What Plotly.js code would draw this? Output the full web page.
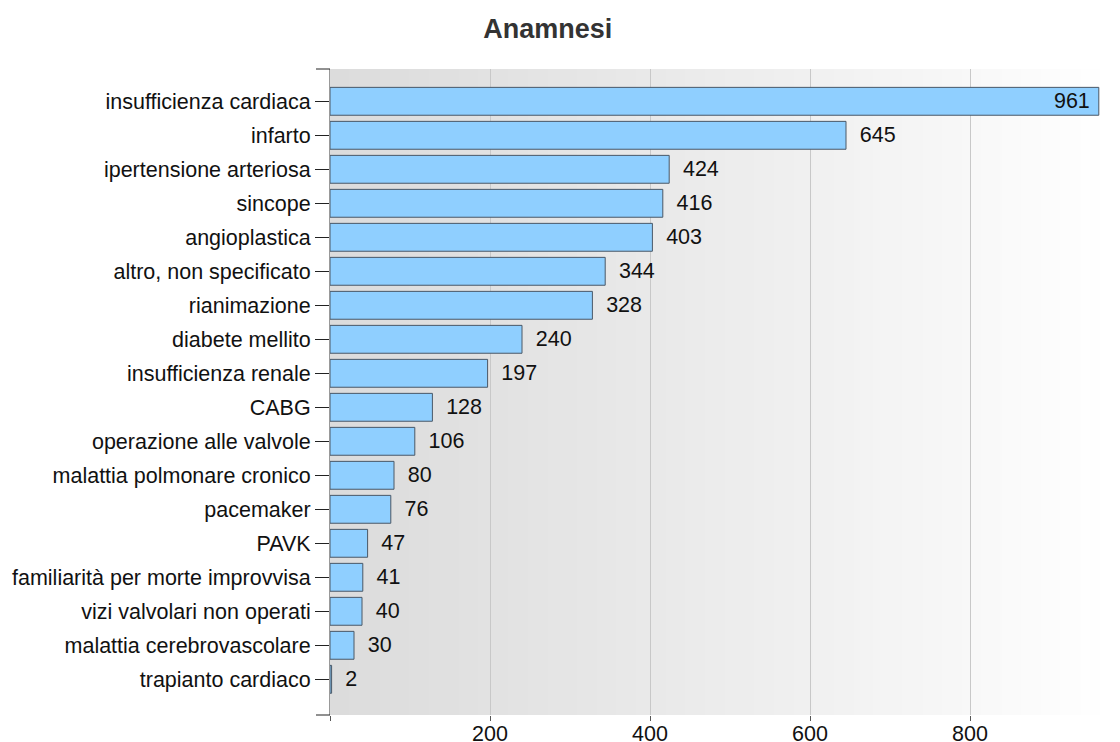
<!DOCTYPE html>
<html>
<head>
<meta charset="utf-8">
<script src="https://cdn.plot.ly/plotly-3.0.1.min.js"></script>
<style>html,body{margin:0;padding:0;background:#fff;}#chart{width:1120px;height:742px;}</style>
</head>
<body>
<div id="chart"></div>
<script>
const categories = [
  "insufficienza cardiaca", "infarto", "ipertensione arteriosa", "sincope",
  "angioplastica", "altro, non specificato", "rianimazione", "diabete mellito",
  "insufficienza renale", "CABG", "operazione alle valvole",
  "malattia polmonare cronico", "pacemaker", "PAVK",
  "familiarità per morte improvvisa", "vizi valvolari non operati",
  "malattia cerebrovascolare", "trapianto cardiaco"
];
const values = [961, 645, 424, 416, 403, 344, 328, 240, 197, 128, 106, 80, 76, 47, 41, 40, 30, 2];
const xTickVals = [0, 200, 400, 600, 800];
const xTickText = ["", "200", "400", "600", "800"];
const titleText = "Anamnesi";

const NB = "\u00a0";
const EN = "\u2002";
const texts = values.map((v, i) => i === 0 ? v + NB : EN + v);
const positions = values.map((v, i) => i === 0 ? "inside" : "outside");

const FONT = "Liberation Sans, Arial, sans-serif";
const FS = 21.5;

// gradient background (style only)
const shapes = [];
const N = 80;
for (let i = 0; i < N; i++) {
  const t = i / (N - 1);
  const g = Math.round(220 + (255 - 220) * Math.pow(t, 1.1));
  shapes.push({type: "rect", xref: "paper", yref: "paper", x0: i / N, x1: (i + 1) / N + 0.001, y0: 0, y1: 1,
    fillcolor: `rgb(${g},${g},${g})`, line: {width: 0}, layer: "below"});
}
// top and bottom end ticks on the y axis
const tl = -14 / 790;
shapes.push({type: "line", xref: "paper", yref: "paper", x0: tl, x1: 0, y0: 1, y1: 1, line: {color: "#222", width: 1}});
shapes.push({type: "line", xref: "paper", yref: "paper", x0: tl, x1: 0, y0: 0, y1: 0, line: {color: "#222", width: 1}});

const trace = {
  type: "bar",
  orientation: "h",
  y: categories,
  x: values,
  text: texts,
  textposition: positions,
  insidetextanchor: "end",
  textangle: 0,
  cliponaxis: false,
  constraintext: "none",
  textfont: {family: FONT, size: FS, color: "#111"},
  insidetextfont: {family: FONT, size: FS, color: "#111"},
  outsidetextfont: {family: FONT, size: FS, color: "#111"},
  marker: {color: "#8fcfff", line: {color: "#4a5866", width: 1}},
  width: 0.82,
  hoverinfo: "skip"
};

const layout = {
  width: 1120, height: 742,
  margin: {l: 330, r: 0, t: 69, b: 27, pad: 0},
  paper_bgcolor: "#ffffff",
  plot_bgcolor: "rgba(0,0,0,0)",
  showlegend: false,
  title: {text: "<b>" + titleText + "</b>", xref: "container", x: 0.489, xanchor: "center",
    yref: "container", y: 0.962, yanchor: "middle",
    font: {family: FONT, size: 27, color: "#333"}},
  xaxis: {
    range: [0, 987.5], tickvals: xTickVals, ticktext: xTickText,
    showgrid: true, gridcolor: "#c8c8c8", gridwidth: 1, zeroline: false, showline: false,
    ticks: "outside", ticklen: 5, tickcolor: "#555", ticklabelstandoff: -6,
    tickfont: {family: FONT, size: FS, color: "#111"}
  },
  yaxis: {
    type: "category", range: [18.05, -0.95],
    showgrid: false, zeroline: false, showline: true, linecolor: "#999", linewidth: 1,
    ticks: "outside", ticklen: 14, tickcolor: "#222",
    tickfont: {family: FONT, size: FS, color: "#111"}
  },
  shapes: shapes
};

Plotly.newPlot("chart", [trace], layout, {displayModeBar: false, staticPlot: true});
</script>
</body>
</html>
